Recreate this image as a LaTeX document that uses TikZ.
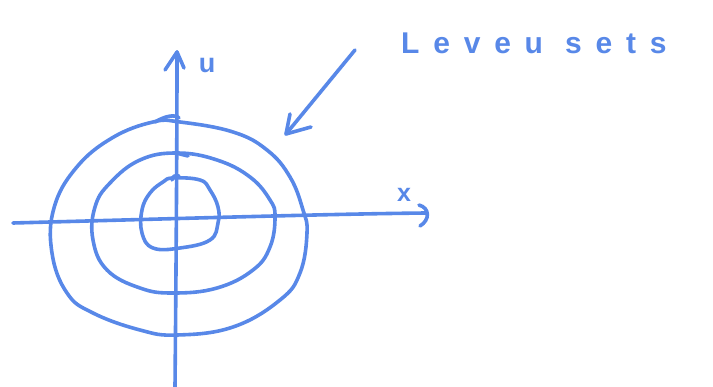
\documentclass[tikz,border=0pt]{standalone}
\usepackage{fontspec}
\setmainfont{Liberation Sans}
\newfontfamily\handfont[LetterSpace=46]{Liberation Sans}
\definecolor{pen}{RGB}{88,136,232}
\tikzset{
  ink/.style={draw=pen, line width=3.6pt, line cap=round, line join=round},
  lbl/.style={text=pen, inner sep=0pt},
}
\begin{document}
\begin{tikzpicture}[x=1pt,y=-1pt]
\useasboundingbox (0,0) rectangle (713,387);
% axes
\coordinate (xs) at (13,223);
\coordinate (xe) at (426,213);
\coordinate (ys) at (175,387);
\coordinate (ye) at (177,52);
\draw[ink] (xs) .. controls (200,218) and (330,214) .. (xe);
\draw[ink] (ys) .. controls (176,280) and (177,150) .. (ye);
% arrow heads of axes
\draw[ink] (165,70) -- (ye) -- (184,68);
\draw[ink] (419,205) .. controls (430,208) and (430,220) .. (420,226);
% level sets
\draw[ink] plot[smooth cycle, tension=0.7] coordinates {
 (153,122) (180,122) (233,132) (267,150) (290,177) (303,210) (307,233)
 (300,273) (280,300) (233,327) (177,335) (140,330) (93,313) (67,293)
 (52,253) (54,208) (76,168) (112,138)};
\draw[ink] plot[smooth cycle, tension=0.7] coordinates {
 (177,153) (217,160) (250,177) (270,200) (275,217) (270,247) (253,270)
 (217,288) (173,293) (140,288) (107,270) (93,240) (95,207) (110,183) (140,160)};
\draw[ink] plot[smooth cycle, tension=0.7] coordinates {
 (173,178) (200,180) (210,190) (218,207) (218,223) (210,240) (180,248)
 (153,248) (142,233) (142,210) (150,193) (163,182)};
% small hooks at top crossings
\draw[ink] (155,122) .. controls (165,116) and (175,114) .. (179,118);
\draw[ink] (176,153) -- (188,156);
\draw[ink] (172,180) .. controls (172,176) and (176,175) .. (179,176);
% labels
\node[lbl, font=\bfseries\fontsize{27}{27}\selectfont, anchor=base] (ulab) at (207,73) {u};
\node[lbl, font=\bfseries\fontsize{25}{25}\selectfont, anchor=base] (xlab) at (404,202) {x};
\node[lbl, font=\handfont\bfseries\fontsize{30}{30}\selectfont, anchor=base west] (title) at (401,54) {Leveu sets};
% pointer arrow
\coordinate (as) at (355,50);
\coordinate (ae) at (286,134);
\draw[ink] (as) -- (ae);
\draw[ink] (290,114) -- (ae) -- (311,127);
\end{tikzpicture}
\end{document}
